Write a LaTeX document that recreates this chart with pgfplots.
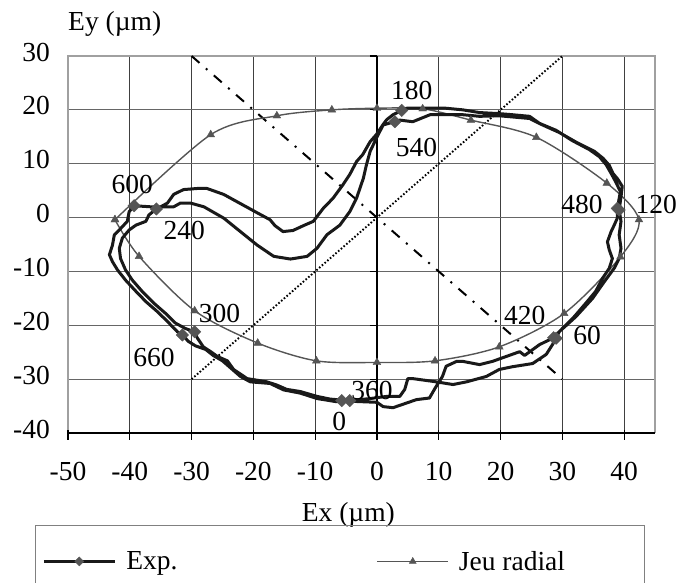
\documentclass[border=0pt]{standalone}
\usepackage{fontspec}
\setmainfont{Liberation Serif}
\usepackage{pgfplots}
\pgfplotsset{compat=1.18}
\newcommand{\bigf}{\fontsize{27.5bp}{31bp}\selectfont}
\definecolor{mk}{HTML}{555555}
\definecolor{framec}{HTML}{A0A0A0}
\definecolor{legc}{HTML}{808080}
\begin{document}
\begin{tikzpicture}
\begin{axis}[
  at={(68bp,-433bp)}, anchor=south west,
  scale only axis, width=587bp, height=377bp,
  xmin=-50, xmax=45, ymin=-40, ymax=30,
  xtick={-50,-40,...,40}, ytick={-40,-30,...,30},
  axis line style={draw=none}, tick style={draw=none},
  xmajorgrids, ymajorgrids,
  x grid style={black!75, line width=0.9bp},
  y grid style={black!60, line width=0.9bp},
  /pgf/number format/assume math mode=true,
  tick label style={font=\bigf, inner sep=0pt},
  xticklabel style={anchor=base, yshift=-47bp},
  yticklabel style={anchor=east, xshift=-18bp, yshift=4bp},
  clip=false,
  legend columns=2,
  legend style={draw=none, fill=none, font=\bigf,
    at={(axis description cs:-0.0443,-0.3406)}, anchor=west,
    inner sep=0pt, nodes={inner sep=0pt},
    /tikz/every odd column/.append style={column sep=10bp},
    /tikz/every even column/.append style={column sep=199bp}},
  legend cell align=left,
  legend image code/.code={\draw[#1,mark repeat=2,mark phase=2] plot coordinates {(0bp,0bp)(35.5bp,0bp)(71bp,0bp)};},
]
% frame and axes
\draw[framec, line width=1.5bp] (axis cs:-50,-40) -- (axis cs:-50,30) -- (axis cs:45,30) -- (axis cs:45,-40);
\draw[black, line width=2bp] (axis cs:-50,-40) -- (axis cs:45,-40);
\draw[black, line width=1.5bp] (axis cs:0,-40) -- (axis cs:0,30);
\pgfplotsinvokeforeach{-50,-40,...,40}{\draw[black, line width=1.2bp] ([yshift=3bp]axis cs:#1,-40) -- ([yshift=-7bp]axis cs:#1,-40);}
\pgfplotsinvokeforeach{-40,-30,...,30}{\draw[black, line width=1.2bp] ([xshift=-7bp]axis cs:0,#1) -- (axis cs:0,#1);}

\addlegendimage{black!90, line width=3.2bp, mark=square*, mark size=3.2bp, mark options={rotate=45, fill=mk, draw=mk, line width=0.4bp}}
\addlegendentry{Exp.}
\addlegendimage{mk, line width=1.4bp, mark=triangle*, mark size=4bp, mark options={fill=mk, draw=mk, line width=0.4bp}}
\addlegendentry{Jeu radial}

% diagonals
\addplot[black, line width=2bp, dash pattern=on 10.5bp off 8.5bp on 2bp off 8.5bp, forget plot] coordinates {(-30,30) (30,-30)};
\addplot[black, line width=1.9bp, dash pattern=on 1.6bp off 2bp, forget plot] coordinates {(-30,-30) (30,30)};

% Jeu radial
\addplot[mk, line width=1.4bp, smooth, mark=triangle*, mark size=4.5bp, mark options={fill=mk, draw=mk, line width=0.4bp}, forget plot] coordinates {
(-42.4,-0.4) (-38.5,-7.2) (-29.5,-17.3) (-19.3,-23.3) (-9.8,-26.6) (0,-26.9) (9.4,-26.6) (19.8,-24.0) (30.3,-17.8) (39.4,-7.3) (42.4,-0.4) (37.2,6.4) (25.8,14.9) (15.2,18.1) (7.4,20.2) (0,20.3) (-7.3,20.0) (-16.2,18.9) (-26.9,15.4) (-42.4,-0.4)};

% Exp trace
\addplot[black!90, line width=3bp, line join=round, no markers, forget plot] coordinates {
(-5.7,-34.0) (-4.4,-34.1) (0,-34.3) (1.0,-35.1) (2.6,-35.3) (6.4,-33.8) (8.5,-33.5) (9.4,-31.7) (10.6,-29.5) (11.2,-27.6) (12.9,-26.7) (13.9,-26.7) (16.6,-27.3) (18.7,-26.7) (20.9,-25.8) (23.1,-24.9) (23.9,-25.6) (26.3,-23.6) (28.6,-22.3)
(30.0,-20.6) (31.7,-18.7) (33.8,-15.9) (35.4,-13.7) (36.5,-11.3) (37.6,-9.4) (38.1,-7.6) (37.6,-6.0) (37.3,-4.5) (37.9,-2.6) (38.4,-1.4) (38.9,-0.1) (38.9,1.7)
(39.4,4.8) (38.7,6.5) (37.9,8.2) (37.1,9.8) (36.0,11.3) (34.4,12.6) (31.6,14.3) (29.0,16.2) (26.3,17.5) (24.7,18.8) (21.9,19.1) (19.8,19.3) (16.6,19.5) (13.9,20.0) (11.2,20.3) (7.4,20.3) (4.8,20.3) (4.0,19.9)
(2.6,19.1) (1.6,18.2) (1.0,17.3) (-0.1,15.4) (-1.1,14.1) (-2.3,11.7) (-3.3,10.4) (-4.4,8.0) (-5.5,6.1) (-7.1,3.6) (-8.7,1.7) (-10.3,-0.7) (-11.9,-1.5) (-13.6,-2.4) (-15.2,-2.6) (-16.5,-1.5) (-17.3,-0.4) (-19.4,0.9) (-22.1,2.6) (-24.8,4.3) (-27.5,5.4) (-29.1,5.4) (-31.3,5.2) (-32.9,4.3) (-33.9,2.7) (-35.0,2.0) (-35.7,1.6)
(-36.9,0.5) (-37.4,-0.7) (-39.0,-1.4) (-40.1,-2.3) (-41.2,-3.8) (-41.7,-5.7) (-41.5,-7.6) (-40.7,-9.7) (-39.6,-11.6) (-38.0,-13.7) (-36.1,-15.9) (-34.2,-17.8) (-32.6,-19.6) (-31.0,-20.6) (-29.5,-21.2)
(-29.1,-22.3) (-28.1,-24.0) (-26.9,-24.9) (-25.8,-25.8) (-24.2,-26.6) (-23.2,-28.2) (-21.0,-29.9) (-17.8,-30.5) (-16.2,-31.1) (-14.6,-31.9) (-12.4,-32.3) (-9.7,-33.2) (-7.6,-33.7) (-5.5,-33.9) (-4.4,-34.0)
(-1.1,-33.6) (1.6,-33.2) (3.7,-33.2) (4.5,-31.9) (5.0,-29.9) (5.8,-29.9) (9.6,-30.5) (12.3,-31.0) (14.5,-30.5) (17.7,-29.5) (19.8,-28.2) (21.9,-27.7) (25.2,-27.1) (27.4,-25.4) (28.4,-23.6) (29.0,-22.4)
(29.5,-21.2) (32.2,-18.4) (34.9,-15.0) (36.8,-11.9) (38.4,-9.4) (39.2,-7.6) (39.5,-5.7) (39.2,-3.2) (39.5,-0.7) (39.2,1.4)
(39.5,3.9) (39.7,5.8) (39.0,7.1) (38.2,8.2) (37.6,9.7) (36.6,11.0) (35.2,12.3) (32.4,13.9) (29.5,15.8) (26.6,17.3) (24.7,18.4) (19.8,18.9) (16.6,18.8) (13.9,19.1) (8.6,19.1) (5.8,17.8) (3.7,18.1) (2.9,17.8)
(1.0,17.2) (-0.1,14.7) (-1.1,12.3) (-1.7,9.8) (-2.2,7.3) (-3.3,3.6) (-4.4,1.1) (-6.0,-1.4) (-8.1,-3.2) (-9.7,-5.7) (-11.3,-7.2) (-14.0,-7.7) (-16.7,-7.2) (-19.4,-5.1) (-22.1,-2.6) (-24.8,-0.1) (-28.0,2.0) (-30.2,2.7) (-31.8,2.7) (-32.9,2.0) (-34.5,2.0) (-36.6,2.0) (-39.3,2.2)
(-40.1,1.1) (-40.4,-0.7) (-41.7,-2.3) (-42.5,-3.2) (-42.8,-5.1) (-43.3,-6.9) (-42.8,-8.2) (-42.0,-9.7) (-40.7,-11.6) (-39.0,-13.7) (-37.4,-15.6) (-35.5,-17.5) (-33.9,-19.3) (-32.3,-21.2) (-31.5,-21.8)
(-30.5,-23.0) (-29.4,-23.8) (-27.7,-24.5) (-26.5,-25.6) (-25.0,-26.6) (-23.7,-27.9) (-22.1,-29.5) (-20.5,-30.5) (-17.3,-30.8) (-15.1,-32.0) (-12.4,-32.6) (-9.7,-33.6) (-6.5,-34.2) (-5.7,-34.0)};

% Exp markers
\addplot[only marks, mark=square*, mark size=4.4bp, mark options={rotate=45, fill=mk, draw=mk}, forget plot] coordinates {
(-5.7,-34.0) (28.6,-22.3) (38.9,1.7) (4.0,19.9) (-35.7,1.6) (-29.5,-21.2) (-4.4,-34.0) (29.0,-22.4) (39.2,1.4) (2.9,17.8) (-39.3,2.2) (-31.5,-21.8)};

% labels
\node[font=\bigf, inner sep=0pt] at (axis cs:-6.1,-37.9) {0};
\node[font=\bigf, inner sep=0pt] at (axis cs:34.0,-21.9) {60};
\node[font=\bigf, inner sep=0pt] at (axis cs:45.2,2.5) {120};
\node[font=\bigf, inner sep=0pt] at (axis cs:5.65,23.6) {180};
\node[font=\bigf, inner sep=0pt] at (axis cs:-31.2,-2.4) {240};
\node[font=\bigf, inner sep=0pt] at (axis cs:-25.5,-17.9) {300};
\node[font=\bigf, inner sep=0pt] at (axis cs:-0.8,-32.1) {360};
\node[font=\bigf, inner sep=0pt] at (axis cs:23.9,-18.25) {420};
\node[font=\bigf, inner sep=0pt] at (axis cs:33.2,2.5) {480};
\node[font=\bigf, inner sep=0pt] at (axis cs:6.4,13.0) {540};
\node[font=\bigf, inner sep=0pt] at (axis cs:-39.6,6.2) {600};
\node[font=\bigf, inner sep=0pt] at (axis cs:-36.1,-26.0) {660};
\end{axis}
\node[font=\bigf, anchor=base west, inner sep=0pt] at (68bp,-30.5bp) {Ey (µm)};
\node[font=\bigf, anchor=base west, inner sep=0pt] at (301.7bp,-521bp) {Ex (µm)};
\draw[legc, line width=1bp] (35bp,-525bp) rectangle (644bp,-600bp);
\pgfresetboundingbox
\useasboundingbox (0,0) rectangle (677bp,-583bp);
\end{tikzpicture}
\end{document}
